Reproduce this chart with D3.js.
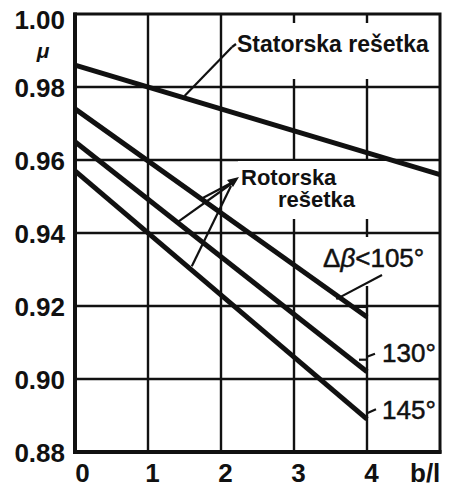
<!DOCTYPE html>
<html>
<head>
<meta charset="utf-8">
<script src="https://cdn.jsdelivr.net/npm/d3@7"></script>
<style>
body { margin: 0; background: #fff; }
svg text { font-family: "Liberation Sans", Arial, sans-serif; fill: #111; }
</style>
</head>
<body>
<div id="chart"></div>
<script>
// values
var xTicks = [0, 1, 2, 3, 4];
var yTicks = [0.88, 0.90, 0.92, 0.94, 0.96, 0.98, 1.00];
var statorX = [0, 5];
var statorMu = [0.986, 0.956];
var rotorX = [0, 4];
var rotor105 = [0.974, 0.917];
var rotor130 = [0.965, 0.902];
var rotor145 = [0.957, 0.889];

var fullWidth = 449, fullHeight = 488;
var margins = {top: 14, right: 9, bottom: 36, left: 75};
var width = fullWidth - margins.left - margins.right;
var height = fullHeight - margins.top - margins.bottom;
var ink = "#111";

var svg = d3.select("#chart").append("svg")
    .attr("width", fullWidth)
    .attr("height", fullHeight);

var g = svg.append("g")
    .attr("transform", "translate(" + margins.left + "," + margins.top + ")");

var x = d3.scaleLinear().domain([0, 5]).range([0, width]);
var y = d3.scaleLinear().domain([0.88, 1.00]).range([height, 0]);

// linear read of a series at some b/l
var muAt = function(xs, ys, xv) {
    return d3.scaleLinear().domain(xs).range(ys)(xv);
};

// grid
var grid = g.append("g").attr("class", "grid");
grid.selectAll("line.v")
    .data(xTicks.slice(1))
    .enter().append("line")
    .attr("x1", function(d) { return x(d); })
    .attr("x2", function(d) { return x(d); })
    .attr("y1", 0).attr("y2", height)
    .attr("stroke", ink).attr("stroke-width", 2.4);
grid.selectAll("line.h")
    .data(yTicks.slice(1, -1))
    .enter().append("line")
    .attr("x1", 0).attr("x2", width)
    .attr("y1", function(d) { return y(d); })
    .attr("y2", function(d) { return y(d); })
    .attr("stroke", ink).attr("stroke-width", 2.4);

// white patches behind the labels cut the grid
var patches = [
    [153, 9, 206, 56],
    [163, 147, 160, 58],
    [247, 223, 116, 49]
];
g.selectAll("rect.patch")
    .data(patches)
    .enter().append("rect")
    .attr("x", function(d) { return d[0]; })
    .attr("y", function(d) { return d[1]; })
    .attr("width", function(d) { return d[2]; })
    .attr("height", function(d) { return d[3]; })
    .attr("fill", "#fff");

// series
var line = d3.line()
    .x(function(d) { return x(d[0]); })
    .y(function(d) { return y(d[1]); });

var series = [
    [statorX, statorMu],
    [rotorX, rotor105],
    [rotorX, rotor130],
    [rotorX, rotor145]
];
g.selectAll("path.series")
    .data(series)
    .enter().append("path")
    .attr("class", "series")
    .attr("d", function(s) { return line(d3.zip(s[0], s[1])); })
    .attr("fill", "none")
    .attr("stroke", ink)
    .attr("stroke-width", 5);

// frame
g.append("rect")
    .attr("width", width).attr("height", height)
    .attr("fill", "none").attr("stroke", ink).attr("stroke-width", 3);
g.append("line")
    .attr("x1", 0).attr("x2", 0).attr("y1", -1.5).attr("y2", height + 2)
    .attr("stroke", ink).attr("stroke-width", 4);
g.append("line")
    .attr("x1", -2).attr("x2", width + 1.5).attr("y1", height).attr("y2", height)
    .attr("stroke", ink).attr("stroke-width", 4);

// axes
var yAxis = g.append("g")
    .call(d3.axisLeft(y).tickValues(yTicks).tickFormat(d3.format(".2f")).tickSize(0).tickPadding(10));
var xAxis = g.append("g")
    .attr("transform", "translate(0," + height + ")")
    .call(d3.axisBottom(x).tickValues(xTicks).tickFormat(d3.format("d")).tickSize(0).tickPadding(12));
[yAxis, xAxis].forEach(function(a) {
    a.select(".domain").remove();
    a.selectAll("text")
        .attr("font-family", null)
        .style("font-size", "26px")
        .style("font-weight", "bold");
});
// the top label sits below its gridline in the original
yAxis.selectAll(".tick text")
    .attr("dy", function(d) { return d === 1.00 ? "0.55em" : "0.35em"; });
xAxis.selectAll(".tick text")
    .attr("dx", function(d) { return d === 0 ? 7 : 4; });

svg.append("text")
    .attr("x", 410).attr("y", 482)
    .style("font-size", "26px").style("font-weight", "bold")
    .text("b/l");
svg.append("text")
    .attr("x", 43).attr("y", 58)
    .attr("text-anchor", "middle")
    .style("font-size", "21px").style("font-weight", "bold").style("font-style", "italic")
    .text("μ");

// annotations
var lead = g.append("g")
    .attr("stroke", ink).attr("stroke-width", 2.2).attr("fill", "none");
var addLead = function(x1, y1, x2, y2) {
    lead.append("line").attr("x1", x1).attr("y1", y1).attr("x2", x2).attr("y2", y2);
};

// stator
addLead(157, 33, x(1.5), y(muAt(statorX, statorMu, 1.5)) - 2);
addLead(157, 33, 161, 30);
g.append("text")
    .attr("x", 162).attr("y", 38)
    .style("font-size", "23px").style("font-weight", "bold")
    .text("Statorska rešetka");

// rotor
var apex = [160, 167];
addLead(apex[0], apex[1], x(1.75), y(muAt(rotorX, rotor105, 1.75)) - 2);
addLead(apex[0] - 4, apex[1] + 3, x(1.42), y(muAt(rotorX, rotor130, 1.42)) - 2);
addLead(apex[0] - 4, apex[1] + 5, x(1.6), y(muAt(rotorX, rotor145, 1.6)) - 4);
g.append("path")
    .attr("d", "M" + (apex[0] + 4) + "," + (apex[1] - 4) + "l-12,3l6,7z")
    .attr("fill", ink);
g.append("text")
    .attr("x", 166).attr("y", 171)
    .style("font-size", "22px").style("font-weight", "bold")
    .text("Rotorska");
g.append("text")
    .attr("x", 203).attr("y", 193)
    .style("font-size", "22px").style("font-weight", "bold")
    .text("rešetka");

// rotor angle labels
var x4 = x(4);
var end105 = y(rotor105[1]), end130 = y(rotor130[1]), end145 = y(rotor145[1]);
addLead(307, 261, x(3.58), y(muAt(rotorX, rotor105, 3.58)) + 4);
addLead(x4 - 10, end105 - 10, x4, end105 - 10);
addLead(x4 - 8, end130 - 12, x4, end130 - 12);
addLead(x4, end130 - 15, x4 + 8, end130 - 18);
addLead(x4, end145 - 6, x4 + 9, end145 - 10);

var angleText = g.append("g")
    .style("font-size", "26px")
    .style("stroke", ink).style("stroke-width", 0.5);
var t105 = angleText.append("text").attr("x", 248).attr("y", 253);
t105.append("tspan").text("Δ");
t105.append("tspan").style("font-style", "italic").text("β");
t105.append("tspan").text("<105°");
angleText.append("text").attr("x", 307).attr("y", 348).text("130°");
angleText.append("text").attr("x", 307).attr("y", 405).text("145°");
</script>
</body>
</html>
